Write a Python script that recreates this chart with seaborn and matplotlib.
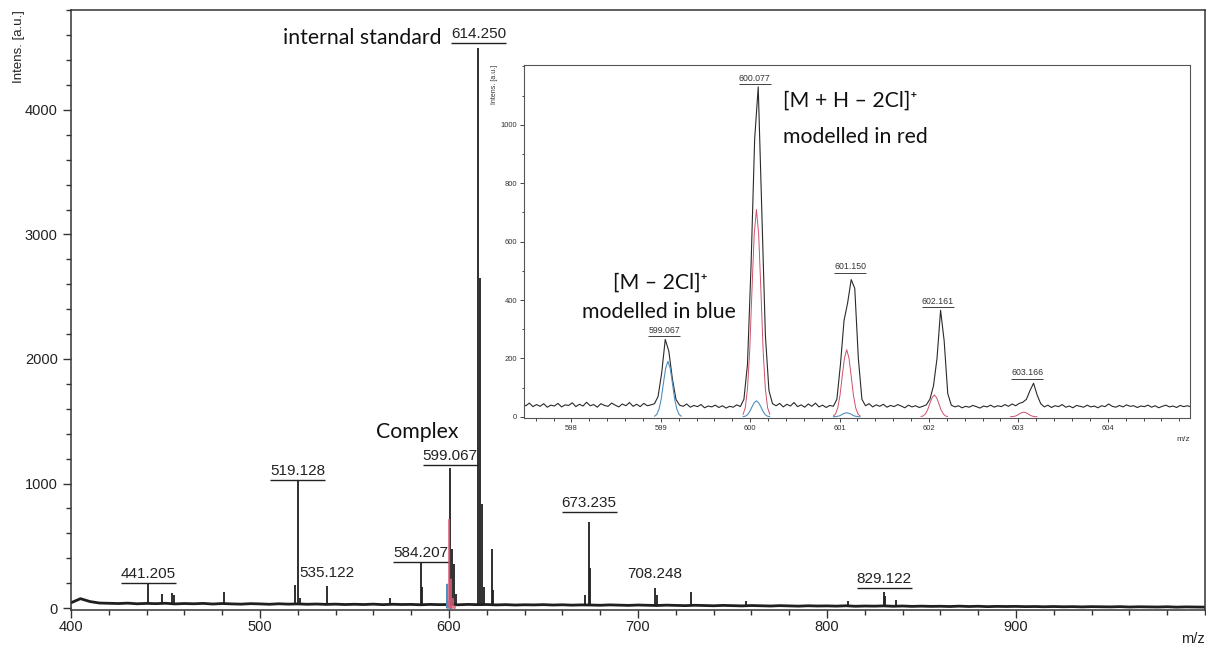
import numpy as np
import pandas as pd
import seaborn as sns
import matplotlib.pyplot as plt
from matplotlib.ticker import MultipleLocator

sns.set_style("ticks")
plt.rcParams['font.family'] = ['Liberation Sans', 'DejaVu Sans']

# ---- main spectrum: baseline every 5 m/z (400..1000) ----
base_mz = np.arange(400, 1001, 5)
base_int = [42, 75, 52, 40, 38, 36, 39, 34, 37, 35,
            38, 33, 36, 34, 37, 32, 36, 33, 31, 35,
            33, 30, 34, 31, 33, 30, 32, 29, 31, 28,
            30, 28, 31, 27, 30, 28, 29, 26, 29, 27,
            28, 26, 29, 27, 28, 25, 27, 24, 26, 25,
            27, 24, 26, 23, 25, 24, 22, 25, 23, 21,
            24, 22, 20, 23, 21, 19, 22, 20, 18, 21,
            19, 17, 20, 18, 16, 19, 17, 15, 18, 16,
            17, 15, 18, 14, 16, 15, 17, 14, 16, 13,
            15, 13, 14, 12, 15, 12, 14, 11, 13, 12,
            13, 11, 12, 10, 12, 10, 11, 9, 11, 10,
            9, 11, 8, 10, 9, 8, 10, 7, 9, 8, 7]

# main spectrum peaks
peak_mz = [440.9, 448.0, 453.3, 454.6, 481.0, 518.5, 520.0, 521.2, 535.3, 568.7,
           585.0, 585.6, 600.7, 601.6, 602.6, 603.5, 615.6, 616.5, 617.4, 618.3,
           622.6, 623.4, 671.8, 674.1, 674.8, 709.0, 709.8, 727.9, 757.0, 811.3,
           830.2, 830.8, 836.5]
peak_int = [198, 112, 120, 105, 131, 185, 1028, 80, 180, 80,
            364, 171, 1122, 471, 353, 112, 4500, 2650, 833, 171,
            474, 142, 104, 693, 319, 164, 104, 126, 59, 59,
            131, 98, 64]

# main peak labels
label_text = ["441.205", "519.128", "535.122", "584.207", "599.067",
              "614.250", "673.235", "708.248", "829.122"]
label_mz = [440.9, 520.0, 535.3, 585.0, 600.7, 615.6, 674.1, 709.0, 830.2]
label_int = [200, 1030, 211, 370, 1149, 4538, 771, 200, 160]
label_underlined = [True, True, False, True, True, True, True, False, True]

# ---- inset: zoom 597.45 .. 604.93, step 0.04 ----
inset_mz = np.round(597.45 + 0.04 * np.arange(188), 2)
inset_int = [44, 38, 47, 35, 42, 36, 45, 33, 40, 37,
             46, 34, 41, 39, 48, 35, 43, 37, 50, 38,
             42, 33, 45, 39, 36, 47, 40, 34, 44, 38,
             49, 36, 43, 35, 46, 38, 41,
             45, 70, 150, 265, 225, 130, 60, 40,
             36, 44, 33, 39, 35, 42, 31, 37, 34, 40,
             32, 38, 30, 36, 33, 41, 35,
             60, 180, 520, 950, 1130, 700, 280, 90, 45,
             38, 46, 34, 43, 37, 49, 35, 41, 33, 44,
             36, 47, 34, 40, 32, 39, 36,
             60, 180, 330, 390, 470, 440, 200, 60,
             38, 45, 34, 41, 36, 43, 33, 39, 35, 42,
             37, 31, 40, 34, 38, 32, 36, 41,
             60, 105, 200, 365, 260, 80, 40,
             34, 38, 31, 36, 33, 39, 35, 30, 37, 34,
             40, 33, 38, 35, 42, 36, 44, 38, 46, 50,
             60, 90, 115, 75, 45,
             34, 40, 32, 38, 35, 42, 33, 37, 31, 39,
             36, 33, 40, 34, 37, 31, 38, 35, 44, 36,
             33, 39, 34, 41, 36, 38, 32, 37, 35, 40,
             33, 38, 31, 36, 40, 34, 37, 32, 39, 35, 38, 34]

# modelled isotope envelopes (offsets from each centre)
model_offsets = [-0.15, -0.125, -0.1, -0.075, -0.05, -0.025, 0,
                 0.025, 0.05, 0.075, 0.1, 0.125, 0.15]
red_centres = [600.07, 601.08, 602.06, 603.06]
red_profiles = [[8, 31, 96, 227, 433, 625, 710, 625, 433, 227, 96, 31, 8],
                [3, 10, 31, 74, 140, 202, 230, 202, 140, 74, 31, 10, 3],
                [1, 3, 10, 24, 46, 66, 75, 66, 46, 24, 10, 3, 1],
                [0, 1, 2, 5, 10, 14, 16, 14, 10, 5, 2, 1, 0]]
blue_centres = [599.08, 600.07, 601.08]
blue_profiles = [[2, 8, 26, 61, 116, 167, 190, 167, 116, 61, 26, 8, 2],
                 [1, 2, 7, 18, 34, 48, 55, 48, 34, 18, 7, 2, 1],
                 [0, 1, 2, 4, 9, 12, 14, 12, 9, 4, 2, 1, 0]]

inset_label_text = ["599.067", "600.077", "601.150", "602.161", "603.166"]
inset_label_mz = [599.04, 600.05, 601.12, 602.10, 603.10]
inset_label_int = [277, 1140, 493, 376, 130]


def model_frame(centres, profiles):
    rows = []
    for i, (c, prof) in enumerate(zip(centres, profiles)):
        for off, v in zip(model_offsets, prof):
            rows.append({"peak": i, "mz": c + off, "intens": v})
    return pd.DataFrame(rows)


red_df = model_frame(red_centres, red_profiles)
blue_df = model_frame(blue_centres, blue_profiles)

W, H = 1206, 648
fig = plt.figure(figsize=(W / 100, H / 100), dpi=100)
ax = fig.add_axes([71 / W, 1 - 610 / H, 1134 / W, 600 / H])

ink = '#1f1f1f'
sns.lineplot(x=base_mz, y=base_int, ax=ax, color=ink, lw=2.0, estimator=None)
ax.vlines(peak_mz, np.interp(peak_mz, base_mz, base_int), peak_int, color=ink, lw=1.3)
sns.lineplot(data=blue_df, x="mz", y="intens", units="peak", estimator=None,
             ax=ax, color='#4f8fbf', lw=1.2)
sns.lineplot(data=red_df, x="mz", y="intens", units="peak", estimator=None,
             ax=ax, color='#e0607a', lw=1.2, alpha=0.8)

ax.set_xlim(400, 1000)
ax.set_ylim(-16, 4803)
ax.set_xticks(range(400, 1000, 100))
ax.set_yticks(range(0, 5000, 1000))
ax.xaxis.set_minor_locator(MultipleLocator(20))
ax.yaxis.set_minor_locator(MultipleLocator(200))
ax.tick_params(which='major', direction='out', length=6, width=1, colors='#333333',
               labelsize=10.5, labelcolor='#222222')
ax.tick_params(axis='x', which='major', pad=1)
ax.tick_params(which='minor', direction='out', length=3.5, width=1, colors='#333333')
for s in ax.spines.values():
    s.set_visible(True)
    s.set_color('#333333')
    s.set_linewidth(1.1)
ax.set_ylabel('Intens. [a.u.]', loc='top', fontsize=9.5, color='#222222', labelpad=0)
ax.set_xlabel('m/z', loc='right', fontsize=10.5, color='#222222', labelpad=-1)

main_texts = []
for t, x, y, u in zip(label_text, label_mz, label_int, label_underlined):
    tx = ax.annotate(t, (x, y), xytext=(0, 1.5), textcoords='offset points',
                     ha='center', va='bottom', fontsize=11, color='#222222')
    main_texts.append((tx, y, u))

# inset
axi = fig.add_axes([524 / W, 1 - 418 / H, 666 / W, 353 / H])
axi.set_facecolor('white')
sns.lineplot(x=inset_mz, y=inset_int, ax=axi, color='#2a2a2a', lw=0.8, estimator=None)
sns.lineplot(data=blue_df, x="mz", y="intens", units="peak", estimator=None,
             ax=axi, color='#4f8fbf', lw=0.8)
sns.lineplot(data=red_df, x="mz", y="intens", units="peak", estimator=None,
             ax=axi, color='#d0506a', lw=0.7)
axi.set_xlim(597.47, 604.92)
axi.set_ylim(-4, 1205)
axi.set_xticks(range(598, 605))
axi.set_yticks(range(0, 1001, 200))
axi.xaxis.set_minor_locator(MultipleLocator(0.2))
axi.yaxis.set_minor_locator(MultipleLocator(100))
axi.tick_params(which='major', direction='out', length=3, width=0.7, colors='#444444',
                labelsize=5.5, labelcolor='#333333', pad=2)
axi.tick_params(which='minor', direction='out', length=1.8, width=0.7, colors='#444444')
for s in axi.spines.values():
    s.set_visible(True)
    s.set_color('#555555')
    s.set_linewidth(0.8)
axi.set_ylabel('Intens. [a.u.]', loc='top', fontsize=5, color='#333333', labelpad=2)
axi.set_xlabel('m/z', loc='right', fontsize=6, color='#333333', labelpad=3)

inset_texts = []
for t, x, y in zip(inset_label_text, inset_label_mz, inset_label_int):
    tx = axi.annotate(t, (x, y), xytext=(0, 1), textcoords='offset points',
                      ha='center', va='bottom', fontsize=6.3, color='#333333')
    inset_texts.append((tx, y, True))

# underline the labels
fig.canvas.draw()
renderer = fig.canvas.get_renderer()
for a, items, lw in [(ax, main_texts, 1.0), (axi, inset_texts, 0.6)]:
    inv = a.transData.inverted()
    for tx, y, u in items:
        if not u:
            continue
        bb = tx.get_window_extent(renderer)
        (x0, _), (x1, _) = inv.transform([(bb.x0, bb.y0), (bb.x1, bb.y0)])
        a.hlines(y, x0, x1, color='#222222', lw=lw)

# annotations
note = dict(family=['Lato', 'DejaVu Sans'], fontsize=15.3, color='#111111', va='center', ha='left')
fig.text(283 / W, 1 - 38 / H, 'internal standard', **note)
fig.text(376 / W, 1 - 432 / H, 'Complex', **note)
fig.text(783 / W, 1 - 101 / H, '[M + H \u2013 2Cl]\u207a', **note)
fig.text(783 / W, 1 - 137 / H, 'modelled in red', **note)
fig.text(613 / W, 1 - 283 / H, '[M \u2013 2Cl]\u207a', **note)
fig.text(582 / W, 1 - 312 / H, 'modelled in blue', **note)

fig.savefig('out.png', dpi=100)
